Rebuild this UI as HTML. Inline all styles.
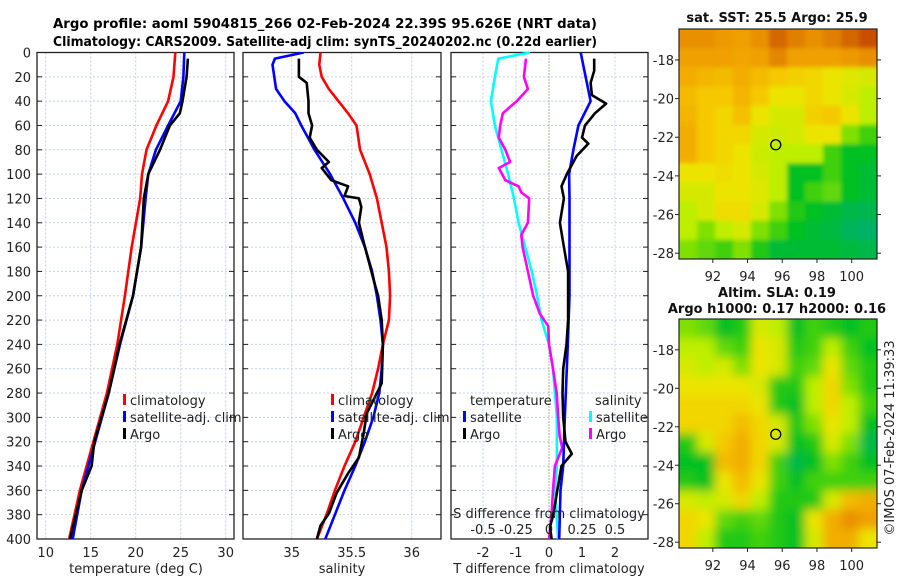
<!DOCTYPE html>
<html><head><meta charset="utf-8"><style>
html,body{margin:0;padding:0;background:#fff;}
svg{display:block;font-family:"DejaVu Sans","Liberation Sans",sans-serif;}
</style></head><body>
<svg id="chart" width="900" height="580" viewBox="0 0 900 580" xmlns="http://www.w3.org/2000/svg">
<defs>
<filter id="blurTop" x="-10%" y="-10%" width="120%" height="120%"><feGaussianBlur stdDeviation="2"/></filter>
<filter id="blurBot" x="-10%" y="-10%" width="120%" height="120%"><feGaussianBlur stdDeviation="5"/></filter>
<clipPath id="clipTop"><rect x="679" y="29" width="198" height="230"/></clipPath>
<clipPath id="clipBot"><rect x="679" y="319" width="198" height="229"/></clipPath>
<clipPath id="clipP1"><rect x="37" y="52" width="197" height="487"/></clipPath>
<clipPath id="clipP2"><rect x="243" y="52" width="198" height="487"/></clipPath>
<clipPath id="clipP3"><rect x="451" y="52" width="197" height="487"/></clipPath>
</defs>
<text x="325" y="28" text-anchor="middle" font-size="13" font-weight="bold" textLength="544" lengthAdjust="spacingAndGlyphs">Argo profile: aoml 5904815_266 02-Feb-2024 22.39S 95.626E (NRT data)</text>
<text x="325" y="46" text-anchor="middle" font-size="13" font-weight="bold" textLength="544" lengthAdjust="spacingAndGlyphs">Climatology: CARS2009. Satellite-adj clim: synTS_20240202.nc (0.22d earlier)</text>
<g id="plots"></g>
</svg>
<script>
// ---------- data ----------
var depthTicks=[0,20,40,60,80,100,120,140,160,180,200,220,240,260,280,300,320,340,360,380,400];
var tempTicks=[10,15,20,25,30];
var salTicks=[35,35.5,36];
var tdiffTicks=[-2,-1,0,1,2];
var sdiffTickLabels=["-0.5","-0.25","0","0.25","0.5"];
var sdiffTicks=[-0.5,-0.25,0,0.25,0.5];

var climTDepth=[0,20,40,60,80,100,120,160,200,240,280,320,360,400];
var climT=[24.4,24.2,23.6,22.3,21.2,20.7,20.5,19.55,18.8,17.95,16.8,15.3,13.8,12.6];
var satTDepth=[0,20,40,60,80,100,120,160,200,240,280,320,360,400];
var satT=[25.4,25.3,25.0,23.6,22.25,21.4,21.1,20.6,19.7,18.25,17.0,15.5,14.0,13.0];
var argoTDepth=[5,20,40,50,60,80,100,120,160,200,240,280,320,340,360,400];
var argoT=[25.8,25.65,25.2,24.9,23.8,22.7,21.4,20.9,20.6,19.7,18.2,17.0,15.4,15.1,14.0,12.7];

var climSDepth=[0,10,20,30,40,50,60,80,100,120,160,180,200,220,240,260,280,300,320,340,360,380,400];
var climS=[35.24,35.23,35.25,35.31,35.39,35.47,35.54,35.57,35.65,35.71,35.79,35.81,35.82,35.81,35.76,35.72,35.67,35.6,35.53,35.44,35.36,35.29,35.21];
var satSDepth=[0,5,10,30,40,50,60,80,100,120,140,160,180,200,220,240,260,280,300,320,340,360,380,400];
var satS=[35.10,34.86,34.84,34.87,34.94,35.03,35.08,35.19,35.32,35.43,35.53,35.61,35.67,35.71,35.74,35.76,35.75,35.73,35.68,35.61,35.53,35.44,35.36,35.28];
var argoSDepth=[5,20,25,40,50,60,70,80,90,95,105,110,118,120,127,140,156,186,200,220,240,272,297,313,333,346,362,379,389,400];
var argoS=[35.06,35.06,35.125,35.14,35.14,35.17,35.15,35.21,35.31,35.25,35.33,35.47,35.44,35.56,35.58,35.56,35.6,35.68,35.72,35.75,35.76,35.75,35.625,35.6,35.56,35.47,35.375,35.31,35.24,35.21];

var satTDiffDepth=[0,40,60,80,100,120,200,240,300,340,360,400];
var satTDiff=[0.96,1.26,0.89,0.74,0.61,0.62,0.62,0.57,0.48,0.43,0.35,0.31];
var argoTDiffDepth=[5,15,25,35,42,50,60,70,75,85,100,110,120,140,160,180,200,220,240,260,280,300,320,330,340,360,380,390,400];
var argoTDiff=[1.37,1.37,1.26,1.3,1.73,1.39,1.09,1.0,1.19,0.84,0.54,0.38,0.45,0.33,0.45,0.58,0.58,0.58,0.53,0.43,0.41,0.43,0.5,0.69,0.38,0.25,0.13,0.03,0.08];
var satSDiffDepth=[0,5,20,40,60,80,100,120,140,160,180,200,220,240,260,280,300,340,360,400];
var satSDiff=[-0.144,-0.384,-0.41,-0.44,-0.41,-0.36,-0.31,-0.265,-0.23,-0.18,-0.13,-0.09,-0.056,0.0,0.03,0.045,0.06,0.06,0.045,0.07];
var argoSDiffDepth=[5,20,30,40,50,60,70,80,90,95,105,110,115,120,140,150,160,180,200,215,225,240,260,280,300,315,325,340,360,380,400];
var argoSDiff=[-0.174,-0.19,-0.16,-0.245,-0.35,-0.37,-0.38,-0.33,-0.295,-0.38,-0.33,-0.23,-0.21,-0.15,-0.16,-0.21,-0.2,-0.16,-0.12,-0.068,-0.005,0.0,0.03,0.058,0.07,0.08,0.1,0.045,0.03,0.02,0.0];

var lonTicks=[92,94,96,98,100];
var latTicks=[-18,-20,-22,-24,-26,-28];
var sstGrid=[
[0.85,0.85,0.82,0.8,0.85,0.95,0.9,0.85,0.9,0.95,1],
[0.8,0.8,0.8,0.78,0.8,0.88,0.8,0.8,0.8,0.82,0.85],
[0.75,0.72,0.7,0.75,0.7,0.65,0.62,0.6,0.55,0.52,0.5],
[0.7,0.65,0.65,0.72,0.65,0.55,0.55,0.6,0.55,0.5,0.45],
[0.72,0.65,0.6,0.68,0.55,0.5,0.5,0.62,0.65,0.55,0.45],
[0.75,0.65,0.6,0.6,0.5,0.48,0.5,0.55,0.55,0.4,0.3],
[0.75,0.65,0.6,0.55,0.48,0.45,0.45,0.45,0.3,0.2,0.2],
[0.55,0.55,0.58,0.55,0.5,0.45,0.2,0.2,0.3,0.2,0.15],
[0.5,0.5,0.55,0.55,0.52,0.45,0.2,0.3,0.35,0.2,0.15],
[0.45,0.5,0.58,0.58,0.5,0.4,0.25,0.2,0.15,0.1,0.08],
[0.45,0.4,0.45,0.5,0.4,0.3,0.2,0.15,0.12,0.05,0.02],
[0.4,0.35,0.3,0.4,0.25,0.15,0.15,0.15,0.15,0.12,0.1]];
var slaGrid=[
[0.4,0.35,0.2,0.25,0.5,0.45,0.2,0.3,0.25,0.2,0.25],
[0.45,0.45,0.35,0.3,0.55,0.5,0.25,0.3,0.45,0.3,0.2],
[0.5,0.45,0.5,0.4,0.55,0.5,0.3,0.35,0.55,0.35,0.25],
[0.55,0.55,0.55,0.55,0.5,0.25,0.25,0.45,0.6,0.4,0.25],
[0.6,0.6,0.6,0.6,0.55,0.25,0.2,0.45,0.6,0.45,0.3],
[0.6,0.6,0.6,0.7,0.6,0.5,0.25,0.4,0.55,0.45,0.2],
[0.25,0.5,0.65,0.75,0.6,0.5,0.2,0.25,0.5,0.4,0.1],
[0.2,0.2,0.7,0.75,0.6,0.3,0.1,0.2,0.4,0.3,0.2],
[0.25,0.2,0.55,0.7,0.55,0.3,0.2,0.3,0.3,0.3,0.3],
[0.5,0.45,0.5,0.6,0.45,0.25,0.25,0.25,0.5,0.7,0.75],
[0.6,0.55,0.35,0.3,0.35,0.25,0.2,0.55,0.75,0.85,0.8],
[0.6,0.45,0.25,0.25,0.3,0.25,0.2,0.5,0.75,0.75,0.55]];
var argoLon=95.626, argoLat=-22.39;

// ---------- helpers ----------
var NS="http://www.w3.org/2000/svg";
var root=document.getElementById('plots');
function mk(tag,attrs,parent){var e=document.createElementNS(NS,tag);for(var k in attrs)e.setAttribute(k,attrs[k]);(parent||root).appendChild(e);return e;}
function txt(s,x,y,size,anchor,parent){var t=mk('text',{x:x,y:y,'font-size':size,'text-anchor':anchor||'middle',fill:'#222'},parent);t.textContent=s;return t;}
var yTop=52.5,yBot=539;
function yD(d){return yTop+d*(yBot-yTop)/400;}
function line(pts,color,w,parent){var s='';for(var i=0;i<pts.length;i++)s+=(i?'L':'M')+pts[i][0].toFixed(1)+' '+pts[i][1].toFixed(1);return mk('path',{d:s,fill:'none',stroke:color,'stroke-width':w,'stroke-linejoin':'round'},parent);}

function panel(name,x0,x1,xf,xTicks,clip){
  var g=mk('g',{});
  
  
  depthTicks.forEach(function(d){
    var gl=mk('line',{x1:x0,x2:x1,y1:yD(d),y2:yD(d),stroke:'#c8d0ea','stroke-width':1,'stroke-dasharray':'2,2'},g);
    
    
    mk('line',{x1:x0,x2:x0+5,y1:yD(d),y2:yD(d),stroke:'#222'},g);
    mk('line',{x1:x1-5,x2:x1,y1:yD(d),y2:yD(d),stroke:'#222'},g);
  });
  xTicks.forEach(function(v){
    var gl=mk('line',{x1:xf(v),x2:xf(v),y1:yTop,y2:yBot,stroke:'#c8d0ea','stroke-width':1,'stroke-dasharray':'2,2'},g);
    
    
  });
  var fr=mk('rect',{x:x0,y:yTop,width:x1-x0,height:yBot-yTop,fill:'none',stroke:'#222','stroke-width':1.3},g);
  
  
  var cg=mk('g',{'clip-path':'url(#'+clip+')'},g);
  return {g:g,cg:cg};
}
function series(name,depths,vals,xf,color,parent){
  var pts=depths.map(function(d,i){return [xf(vals[i]),yD(d)];});
  var p=line(pts,color,2.6,parent);
  
  
}
function legend(items,x,y,parent,name){
  var lg=mk('g',{},parent);
  
  
  items.forEach(function(it,i){
    var yy=y+i*17;
    mk('rect',{x:x,y:yy-11,width:3,height:11,fill:it[1]},lg);
    txt(it[0],x+7,yy,13,'start',lg);
  });
}

// ---------- panel 1: temperature ----------
function xT(v){return 45.7+(v-10)*9;}
var p1=panel('temperature-panel',37,234,xT,tempTicks,'clipP1');
depthTicks.forEach(function(d){
  var t=txt(String(d),31,yD(d)+5,13,'end');
  
  
});
tempTicks.forEach(function(v){var t=txt(String(v),xT(v),557,13);});
var at1=txt('temperature (deg C)',136,573,13);
series('climatology-temperature-line',climTDepth,climT,xT,'#ff0000',p1.cg);
series('satellite-temperature-line',satTDepth,satT,xT,'#0000ff',p1.cg);
series('argo-temperature-line',argoTDepth,argoT,xT,'#000000',p1.cg);
legend([['climatology','#ff0000'],['satellite-adj. clim','#0000ff'],['Argo','#000']],123,405,root,'temperature-legend');

// ---------- panel 2: salinity ----------
function xS(v){return 291.7+(v-35)*120;}
var p2=panel('salinity-panel',243,441,xS,salTicks,'clipP2');
salTicks.forEach(function(v){var t=txt(String(v),xS(v),557,13);});
var at2=txt('salinity',342,573,13);
series('climatology-salinity-line',climSDepth,climS,xS,'#ff0000',p2.cg);
series('satellite-salinity-line',satSDepth,satS,xS,'#0000ff',p2.cg);
series('argo-salinity-line',argoSDepth,argoS,xS,'#000000',p2.cg);
legend([['climatology','#ff0000'],['satellite-adj. clim','#0000ff'],['Argo','#000']],331,405,root,'salinity-legend');

// ---------- panel 3: differences ----------
function xTD(v){return 549+v*33;}
function xSD(v){return 549+v*132;}
var p3=panel('difference-panel',451,648,xTD,[-2,-1,1,2],'clipP3');
var zl=mk('line',{x1:549,x2:549,y1:yTop,y2:yBot,stroke:'#556b2f','stroke-width':1,'stroke-dasharray':'1,2'},p3.g);

series('satellite-salinity-diff-line',satSDiffDepth,satSDiff,xSD,'#00ffff',p3.cg);
series('argo-salinity-diff-line',argoSDiffDepth,argoSDiff,xSD,'#ff00ff',p3.cg);
series('satellite-temperature-diff-line',satTDiffDepth,satTDiff,xTD,'#0000ff',p3.cg);
series('argo-temperature-diff-line',argoTDiffDepth,argoTDiff,xTD,'#000000',p3.cg);
tdiffTicks.forEach(function(v){var t=txt(String(v),xTD(v),557,13);});
var at3=txt('T difference from climatology',549,573,13);
var sdt=txt('S difference from climatology',549,518,13);
sdiffTicks.forEach(function(v,i){var t=txt(sdiffTickLabels[i],xSD(v),534,13);});
var lt=txt('temperature',470,405,13,'start');
legend([['satellite','#0000ff'],['Argo','#000']],463,422,root,'tdiff-legend');
var ls=txt('salinity',595,405,13,'start');
legend([['satellite','#00ffff'],['Argo','#ff00ff']],589,422,root,'sdiff-legend');

// ---------- maps ----------
var cstops=[[0,[0,176,112]],[0.2,[0,192,32]],[0.4,[128,224,0]],[0.45,[190,238,0]],[0.55,[236,228,0]],[0.65,[245,200,0]],[0.8,[240,160,0]],[0.9,[224,128,0]],[1,[200,80,0]]];
function cmap(v){
  for(var i=1;i<cstops.length;i++){if(v<=cstops[i][0]){var a=cstops[i-1],b=cstops[i],t=(v-a[0])/(b[0]-a[0]);
    return 'rgb('+a[1].map(function(c,k){return Math.round(c+(b[1][k]-c)*t);}).join(',')+')';}}
  return 'rgb(200,80,0)';
}
var lon0=90.05,lon1=101.46,lat0=-16.4,lat1=-28.3;
function drawMap(name,grid,mx0,mx1,my0,my1,clip,filt,titles){
  var g=mk('g',{});
  
  
  function xL(lon){return mx0+(lon-lon0)/(lon1-lon0)*(mx1-mx0);}
  function yL(lat){return my0+(lat-lat0)/(lat1-lat0)*(my1-my0);}
  var rows=grid.length,cols=grid[0].length;
  var cw=(lon1-lon0)/cols,ch=(lat1-lat0)/rows;
  var cg=mk('g',{'clip-path':'url(#'+clip+')'},g);
  var bg=mk('g',{filter:'url(#'+filt+')'},cg);
  for(var r=-2;r<rows+2;r++)for(var c=-2;c<cols+2;c++){
    var rr=Math.max(0,Math.min(rows-1,r)),cc=Math.max(0,Math.min(cols-1,c));
    var xa=xL(lon0+c*cw),xb=xL(lon0+(c+1)*cw),ya=yL(lat0+r*ch),yb=yL(lat0+(r+1)*ch);
    var cell=mk('rect',{x:xa.toFixed(1),y:ya.toFixed(1),width:(xb-xa+0.6).toFixed(1),height:(yb-ya+0.6).toFixed(1),fill:cmap(grid[rr][cc])},bg);
    
    
  }
  var fr=mk('rect',{x:mx0,y:my0,width:mx1-mx0,height:my1-my0,fill:'none',stroke:'#222','stroke-width':1.2},g);
  
  latTicks.forEach(function(l){
    mk('line',{x1:mx0-4,x2:mx0,y1:yL(l),y2:yL(l),stroke:'#222'},g);
    mk('line',{x1:mx1,x2:mx1+4,y1:yL(l),y2:yL(l),stroke:'#222'},g);
    var t=txt(String(l),mx0-5,yL(l)+5,13,'end',g);
  });
  lonTicks.forEach(function(l){
    mk('line',{x1:xL(l),x2:xL(l),y1:my1,y2:my1+4,stroke:'#222'},g);
    var t=txt(String(l),xL(l),my1+22,13,'middle',g);
  });
  var m=mk('circle',{cx:xL(argoLon),cy:yL(argoLat),r:5,fill:'none',stroke:'#000','stroke-width':1.3},g);
  
  titles.forEach(function(tt){var t=mk('text',{x:777,y:tt[1],'font-size':13,'font-weight':'bold','text-anchor':'middle',fill:'#111'},g);t.textContent=tt[0];});
}
drawMap('sst-map',sstGrid,679,877,29,259,'clipTop','blurTop',[['sat. SST: 25.5 Argo: 25.9',22]]);
drawMap('sla-map',slaGrid,679,877,319,548,'clipBot','blurBot',[['Altim. SLA: 0.19',297],['Argo h1000: 0.17 h2000: 0.16',313]]);
var cr=mk('text',{x:0,y:0,'font-size':13,'text-anchor':'middle',fill:'#222',transform:'translate(894,438) rotate(-90)'});
cr.textContent='\u00A9IMOS 07-Feb-2024 11:39:33';


</script>
</body></html>
